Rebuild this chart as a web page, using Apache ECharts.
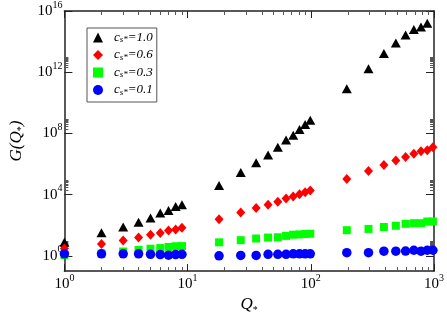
<!DOCTYPE html>
<html><head><meta charset="utf-8">
<script src="https://cdn.jsdelivr.net/npm/echarts@6/dist/echarts.min.js"></script>
<style>html,body{margin:0;padding:0;background:#fff}#c{width:447px;height:320px}</style>
</head><body><div id="c"></div>
<script>
// Q* values
const qValues = [1,2,3,4,5,6,7,8,9, 18,27,36,45,54,63,72,81,90,99, 196,294,392,490,588,686,784,882,980];
// G(Q*) for each c_s*
const g10 = [7.6,32,76,157,300,636,930,1660,2200, 4.0e4,2.8e5,1.2e6,3.9e6,1.23e7,3.7e7,7.7e7,1.8e8,3.8e8,7.3e8, 8.3e10,1.7e12,1.65e13,8.1e13,2.7e14,6.1e14,8.9e14,1.6e15,null];
const g06 = [3,5.9,10,15.5,24,31,45,52,69, 241,665,1310,2200,3400,5600,7400,1.04e4,1.44e4,1.85e4, 1.05e5,3.5e5,8.7e5,1.7e6,2.9e6,4.6e6,6.9e6,8e6,1.23e7];
const g03 = [1.1,1.4,1.9,2.4,2.9,3.2,3.8,4.2,4.3, 7.6,10.5,13.5,15.6,16.3,20,24,25,26.5,27.7, 47,57,76,92,123,135,135,174,174];
const g01 = [1.35,1.35,1.35,1.35,1.25,1.2,1.1,1.2,1.25, 1.0,1.05,1.05,1.25,1.25,1.25,1.35,1.35,1.35,1.35, 1.6,1.6,2.0,2.0,2.05,2.3,2.0,2.3,2.3];
const seriesNames = ['1.0','0.6','0.3','0.1'];
// ticks
const xMajorTicks = [1,10,100,1000];
const yMajorTicks = [1,1e4,1e8,1e12,1e16];
const minorMult = [2,3,4,5,6,7,8,9];

const xMinorTicks = [];
[1,10,100].forEach(d => minorMult.forEach(m => xMinorTicks.push(m*d)));
const yMinorTicks = [];
[1,1e4,1e8,1e12].forEach(d => minorMult.forEach(m => yMinorTicks.push(m*d)));

function pairs(ys){ const out=[]; ys.forEach((y,i)=>{ if(y!=null) out.push([qValues[i], y]); }); return out; }

const serif = 'Liberation Serif';
const lineC = '#222';
const powRich = {
  b:{fontFamily:serif,fontSize:15,lineHeight:22,color:'#000'},
  e:{fontFamily:serif,fontSize:10,lineHeight:10,verticalAlign:'top',color:'#000'}
};
const powFmt = v => '{b|10}{e|' + Math.round(Math.log10(v)) + '}';

function xAx(pos, ticks, len, labels, extra){
  return Object.assign({
    type:'log', logBase:10, min:1, max:1000, position:pos,
    axisLine:{show:len>5, lineStyle:{color:lineC,width:1.5}},
    axisTick:{show:true, inside:true, length:len, customValues:ticks, lineStyle:{color:len>5?'#222':'#555',width:1}},
    axisLabel: labels ? {show:true, customValues:ticks, formatter:powFmt, rich:powRich, margin:2} : {show:false},
    splitLine:{show:false}, minorTick:{show:false}
  }, extra||{});
}
function yAx(pos, ticks, len, labels, extra){
  return Object.assign({
    type:'log', logBase:10, min:0.1, max:1e16, position:pos,
    axisLine:{show:len>5, lineStyle:{color:lineC,width:1.5}},
    axisTick:{show:true, inside:true, length:len, customValues:ticks, lineStyle:{color:len>5?'#222':'#555',width:1}},
    axisLabel: labels ? {show:true, customValues:ticks, formatter:powFmt, rich:powRich, margin:2} : {show:false},
    splitLine:{show:false}, minorTick:{show:false}
  }, extra||{});
}

const chart = echarts.init(document.getElementById('c'), null, {renderer:'canvas'});
const sym = [
  {symbol:'triangle', size:[10,9], color:'#000000', data:g10},
  {symbol:'diamond', size:[9,10], color:'#ff0000', data:g06},
  {symbol:'rect', size:8, color:'#00ff00', data:g03},
  {symbol:'circle', size:9.5, color:'#0000ff', data:g01}
];
chart.setOption({
  animation:false,
  backgroundColor:'#fff',
  grid:{left:49, right:10, top:9, bottom:40, containLabel:false},
  xAxis:[
    xAx('bottom', xMajorTicks, 7, true, {
      name:'{q|Q}{s|*}', nameLocation:'middle', nameGap:20,
      nameTextStyle:{rich:{q:{fontFamily:serif,fontStyle:'italic',fontSize:17,lineHeight:20,color:'#000'},
                          s:{fontFamily:serif,fontSize:10,lineHeight:10,verticalAlign:'bottom',color:'#000'}}}
    }),
    xAx('bottom', xMinorTicks, 4, false),
    xAx('top', xMajorTicks, 7, false),
    xAx('top', xMinorTicks, 4, false)
  ],
  yAxis:[
    yAx('left', yMajorTicks, 8, true, {
      name:'{g|G(Q}{s|*}{g|)}', nameLocation:'middle', nameGap:28,
      nameTextStyle:{rich:{g:{fontFamily:serif,fontStyle:'italic',fontSize:17,lineHeight:20,color:'#000'},
                          s:{fontFamily:serif,fontSize:10,lineHeight:10,verticalAlign:'bottom',color:'#000'}}}
    }),
    yAx('left', yMinorTicks, 4, false),
    yAx('right', yMajorTicks, 8, false),
    yAx('right', yMinorTicks, 4, false)
  ],
  legend:{
    orient:'vertical', left:87, top:28,
    borderColor:'#555', borderWidth:1, padding:[3,4,5,6],
    itemWidth:10, itemHeight:10, itemGap:4,
    data:seriesNames,
    formatter: n => '{c0|c}{s|s*}{c|=' + n + '}',
    textStyle:{fontFamily:serif, fontStyle:'italic', fontSize:13, color:'#000',
      rich:{c0:{fontFamily:serif,fontStyle:'italic',fontSize:13,lineHeight:14,color:'#000',padding:[0,0,0,6]},
            c:{fontFamily:serif,fontStyle:'italic',fontSize:13,lineHeight:14,color:'#000'},
            s:{fontFamily:serif,fontStyle:'italic',fontSize:9,lineHeight:8,verticalAlign:'bottom',color:'#000'}}}
  },
  series: sym.map((s,i)=>({
    type:'scatter', name:seriesNames[i], xAxisIndex:0, yAxisIndex:0, clip:false,
    symbol:s.symbol, symbolSize:s.size, itemStyle:{color:s.color, opacity:1},
    data:pairs(s.data), z:2+i
  }))
});
</script></body></html>
